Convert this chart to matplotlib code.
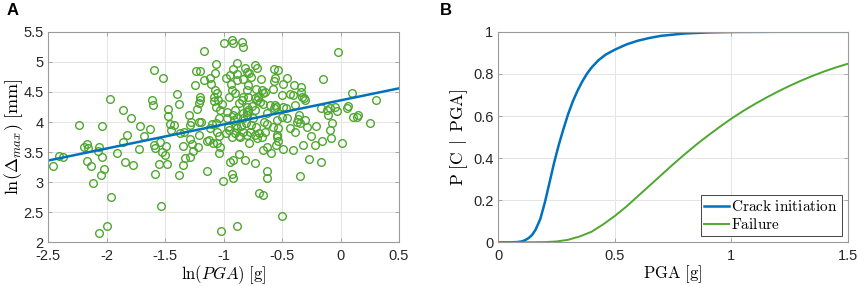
import numpy as np
import matplotlib
matplotlib.use("Agg")
import matplotlib.pyplot as plt
from matplotlib.ticker import FuncFormatter

# -------------------- 数据 --------------------
# A: ln(PGA) vs ln(Delta_max) 散点
ln_pga = [
    -2.457, -2.406, -2.377, -2.235, -2.195, -2.167, -2.16, -2.167, -2.138, -2.12,
    -2.052, -2.064, -2.044, -2.038, -2.024, -2.067, -2.0, -1.97, -1.964, -1.91,
    -1.864, -1.847, -1.824, -1.858, -1.793, -1.773, -1.722, -1.716, -1.682, -1.63,
    -1.613, -1.602, -1.596, -1.6, -1.59, -1.585, -1.556, -1.533, -1.545, -1.53,
    -1.516, -1.505, -1.493, -1.482, -1.479, -1.479, -1.46, -1.454, -1.425, -1.402,
    -1.382, -1.379, -1.376, -1.35, -1.35, -1.337, -1.294, -1.288, -1.288, -1.277,
    -1.288, -1.265, -1.274,
    -1.24, -1.203, -1.245, -1.168, -1.168, -1.203, -1.203, -1.208, -1.231, -1.208,
    -1.191, -1.208, -1.22, -1.117, -1.106, -1.069, -1.071, -1.074, -1.06, -1.083,
    -1.08, -1.052, -1.066, -1.032, -1.017, -1.037, -1.1, -1.066, -1.123, -1.14,
    -1.089, -1.06, -1.043, -1.032, -1.146, -1.04,
    -0.997, -0.917, -0.932, -0.98, -0.946, -0.917, -0.889, -0.94, -0.952, -0.932,
    -0.903, -0.889, -0.883, -0.866, -0.903, -0.917, -0.883, -0.91, -0.96, -0.98,
    -0.95, -0.932, -0.9, -0.883, -0.87, -0.946, -0.917, -0.932, -0.923, -1.003,
    -1.026, -0.889, -0.866,
    -0.843, -0.837, -0.818, -0.803, -0.832, -0.803, -0.79, -0.832, -0.846, -0.803,
    -0.832, -0.803, -0.81, -0.855, -0.837, -0.797, -0.78, -0.818, -0.78, -0.77,
    -0.729, -0.718, -0.724, -0.704, -0.718, -0.758, -0.73, -0.746, -0.724, -0.732,
    -0.715, -0.7, -0.732, -0.695, -0.661, -0.684, -0.672, -0.647, -0.66, -0.632,
    -0.655, -0.627, -0.647, -0.632, -0.661, -0.627, -0.632, -0.598,
    -0.57, -0.535, -0.57, -0.56, -0.581, -0.561, -0.57, -0.55, -0.547, -0.575,
    -0.547, -0.541, -0.535, -0.553, -0.49, -0.504,
    -0.49, -0.461, -0.504, -0.49, -0.467, -0.504, -0.461, -0.433, -0.404, -0.399,
    -0.41, -0.39, -0.375, -0.361, -0.359, -0.347, -0.336, -0.333, -0.313, -0.302,
    -0.319, -0.347, -0.256, -0.267, -0.216, -0.21, -0.17, -0.159, -0.153, -0.17,
    -0.119, -0.09, -0.076, -0.079, -0.105, -0.048, -0.028, -0.02, 0.009, 0.052,
    0.066, 0.094, 0.103, 0.143, 0.149, 0.252, 0.303,
    -0.791, -0.762, -0.776, -0.676, -0.534, -0.306, -0.291, -0.092,
    -0.89, -0.833, -0.804, -0.861, -1.332, -0.975, -0.975, -1.061, -1.118, -2.075,
    -0.334, -0.434, -0.662, -0.733, -0.791, -0.69, -0.605, -0.391,
]
ln_delta = [
    3.268, 3.434, 3.423, 3.955, 3.589, 3.64, 3.57, 3.345, 3.268, 2.99,
    3.118, 3.589, 3.42, 3.94, 3.213, 2.15, 2.277, 4.39, 2.76, 3.49,
    4.198, 3.34, 3.777, 3.667, 4.06, 3.29, 3.545, 3.93, 3.77, 3.877,
    4.364, 4.287, 4.857, 3.62, 3.567, 3.135, 3.30, 2.61, 3.67, 3.50,
    4.73, 3.445, 3.60, 3.30, 4.21, 4.10, 3.966, 3.866, 3.95, 4.46,
    4.296, 3.124, 3.81, 3.29, 3.606, 3.838, 4.12, 3.955, 3.722, 3.993,
    3.41, 3.52, 3.64,
    4.852, 4.852, 4.619, 5.178, 4.697, 4.42, 4.364, 4.31, 4.22, 4.004,
    3.999, 3.788, 3.589, 4.74, 4.63, 4.96, 4.807, 4.53, 4.486, 4.42,
    4.35, 4.364, 4.25, 4.198, 4.298, 4.06, 3.96, 3.977, 3.70, 3.678,
    3.656, 3.644, 3.49, 3.589, 3.18, 3.766,
    5.317, 5.317, 5.372, 4.735, 4.78, 4.874, 4.985, 4.63, 4.42, 4.54,
    4.486, 4.697, 4.796, 4.31, 4.198, 4.115, 4.06, 4.03, 3.92, 3.81,
    3.86, 3.755, 3.81, 3.894, 3.77, 3.34, 3.368, 3.135, 3.063, 3.013,
    2.188, 2.27, 3.467,
    5.328, 5.25, 4.89, 4.835, 4.708, 4.53, 4.62, 4.42, 4.364, 4.254,
    4.143, 4.115, 3.99, 3.932, 3.838, 3.783, 3.656, 3.368, 4.807, 4.75,
    4.946, 4.89, 4.541, 4.42, 4.364, 4.265, 4.2, 4.06, 3.91, 3.783,
    3.73, 3.81, 3.32, 2.814, 2.786, 4.708, 4.53, 4.503, 4.3, 4.143,
    4.004, 3.966, 3.838, 3.589, 3.534, 3.19, 3.074, 3.478,
    4.874, 4.863, 4.674, 4.73, 4.541, 4.281, 4.226, 4.25, 4.032, 3.921,
    3.78, 3.744, 3.68, 3.617, 3.556, 2.437,
    4.64, 4.735, 4.447, 4.254, 4.226, 4.076, 4.06, 3.894, 4.447, 4.613,
    3.534, 3.838, 4.004, 4.049, 4.115, 3.977, 4.586, 4.42, 4.392, 4.364,
    3.611, 3.102, 3.766, 3.39, 3.617, 3.932, 3.34, 3.683, 4.72, 4.226,
    4.198, 4.226, 3.988, 3.728, 4.115, 4.254, 4.182, 5.167, 3.644, 4.226,
    4.265, 4.486, 4.076, 4.076, 4.115, 3.988, 4.364,
    4.198, 3.95, 3.837, 3.754, 3.894, 4.03, 3.92, 3.866,
    3.95, 4.06, 4.17, 3.754, 3.395, 4.17, 4.06, 3.837, 3.894, 3.52,
    4.502, 4.458, 4.475, 4.392, 4.419, 4.336, 4.28, 4.28,
]
# 线性回归线端点
fit_x = [-2.5, 0.5]
fit_y = [3.36, 4.56]

# B: 易损性曲线
pga_crack = [0, 0.05, 0.08, 0.1, 0.115, 0.13, 0.145, 0.16, 0.18, 0.2, 0.22, 0.24,
             0.26, 0.28, 0.30, 0.32, 0.34, 0.36, 0.38, 0.40, 0.43, 0.46, 0.5, 0.55,
             0.6, 0.65, 0.7, 0.8, 0.9, 1.0, 1.2, 1.5]
p_crack = [0, 0, 0.001, 0.004, 0.01, 0.02, 0.035, 0.06, 0.11, 0.19, 0.285, 0.38,
           0.465, 0.54, 0.61, 0.67, 0.72, 0.763, 0.8, 0.83, 0.865, 0.891, 0.915, 0.94,
           0.958, 0.971, 0.981, 0.992, 0.997, 0.999, 1.0, 1.0]
pga_fail = [0, 0.1, 0.2, 0.25, 0.3, 0.35, 0.4, 0.45, 0.5, 0.55, 0.6, 0.65, 0.7, 0.75,
            0.8, 0.85, 0.9, 0.95, 1.0, 1.05, 1.1, 1.15, 1.2, 1.25, 1.3, 1.35, 1.4,
            1.45, 1.5]
p_fail = [0, 0, 0.001, 0.004, 0.012, 0.028, 0.05, 0.085, 0.125, 0.17, 0.22, 0.27,
          0.32, 0.37, 0.418, 0.464, 0.507, 0.548, 0.587, 0.623, 0.656, 0.687, 0.716,
          0.743, 0.768, 0.791, 0.812, 0.831, 0.848]

# -------------------- 样式 --------------------
plt.rcParams['font.family'] = ['Liberation Sans', 'DejaVu Sans']
plt.rcParams['mathtext.fontset'] = 'cm'
plt.rcParams['axes.unicode_minus'] = False

blue = '#0072BD'
green = '#4EA72E'
box_color = '#9a9a9a'
grid_color = '#e4e4e4'


def style_axes(ax):
    for s in ax.spines.values():
        s.set_color(box_color)
        s.set_linewidth(0.8)
    ax.tick_params(direction='in', length=3, width=0.6, color=box_color,
                   labelcolor='#262626', labelsize=10.5, top=True, right=True,
                   labeltop=False, labelright=False)
    ax.tick_params(axis='x', pad=5)
    ax.grid(True, color=grid_color, linewidth=0.7)
    ax.set_axisbelow(True)


fig = plt.figure(figsize=(8.58, 2.86), dpi=100)
ax1 = fig.add_axes([0.0563, 0.1528, 0.4087, 0.736])
ax2 = fig.add_axes([0.5808, 0.1528, 0.4072, 0.736])
fmt = FuncFormatter(lambda v, p: '%g' % round(v, 2))

# -------------------- A --------------------
ax1.plot(ln_pga, ln_delta, 'o', mfc='none', mec=green, ms=5.5, mew=1.0)
ax1.plot(fit_x, fit_y, '-', color=blue, lw=1.8)
ax1.set_xlim(-2.5, 0.5)
ax1.set_ylim(2, 5.5)
ax1.set_xticks(np.arange(-2.5, 0.51, 0.5))
ax1.set_yticks(np.arange(2, 5.51, 0.5))
ax1.xaxis.set_major_formatter(fmt)
ax1.yaxis.set_major_formatter(fmt)
ax1.set_xlabel(r'$\mathrm{ln}(PGA)\ \mathrm{[g]}$', fontsize=12, labelpad=0)
ax1.set_ylabel(r'$\mathrm{ln}(\Delta_{max})\ \mathrm{[mm]}$', fontsize=13, labelpad=-1)
style_axes(ax1)

# -------------------- B --------------------
ax2.plot(pga_crack, p_crack, '-', color=blue, lw=1.8,
         label=r'$\mathrm{Crack\ initiation}$')
ax2.plot(pga_fail, p_fail, '-', color=green, lw=1.4, label=r'$\mathrm{Failure}$')
ax2.set_xlim(0, 1.5)
ax2.set_ylim(0, 1)
ax2.set_xticks([0, 0.5, 1, 1.5])
ax2.set_yticks(np.arange(0, 1.01, 0.2))
ax2.xaxis.set_major_formatter(fmt)
ax2.yaxis.set_major_formatter(fmt)
ax2.set_xlabel(r'$\mathrm{PGA\ [g]}$', fontsize=12, labelpad=0)
ax2.set_ylabel(r'$\mathrm{P\ [C\ \,|\ \,PGA]}$', fontsize=12.5, labelpad=2)
style_axes(ax2)
leg = ax2.legend(loc='lower right', fontsize=11, fancybox=False, framealpha=1,
                 edgecolor='#262626', handlelength=1.6, handletextpad=0.15,
                 borderpad=0.25, labelspacing=0.2, borderaxespad=0.4)
leg.get_frame().set_linewidth(0.6)

# 面板标签
fig.text(0.008, 0.99, 'A', fontsize=12, fontweight='bold', va='top', ha='left')
fig.text(0.513, 0.99, 'B', fontsize=12, fontweight='bold', va='top', ha='left')

fig.savefig('out.png', dpi=100)
